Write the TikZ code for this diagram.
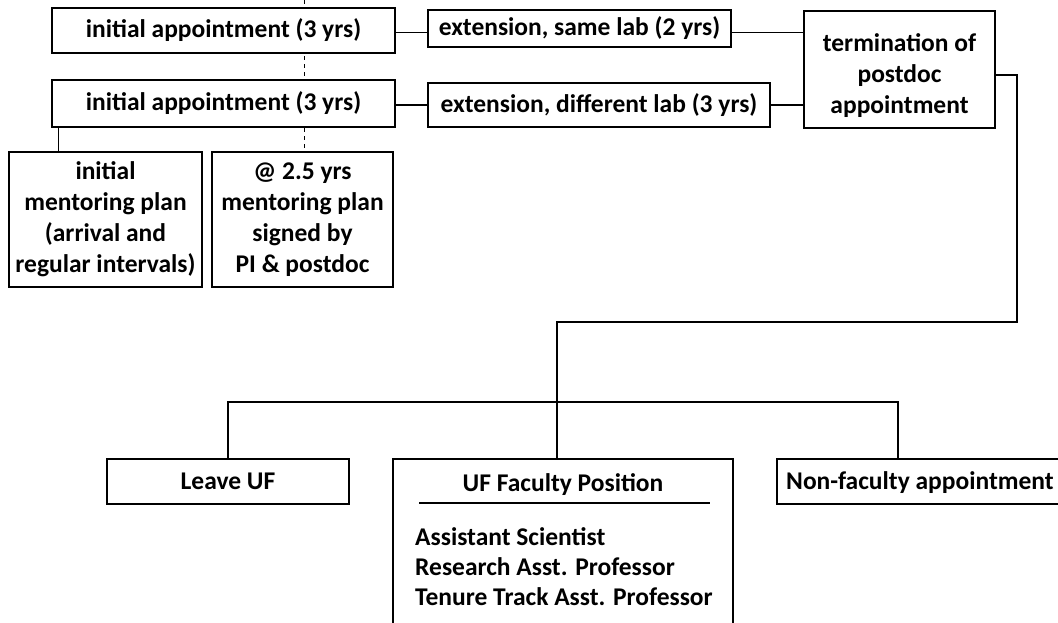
\documentclass[tikz,border=0pt]{standalone}
\usepackage{fontspec}
\setmainfont{Carlito}
\begin{document}
\begin{tikzpicture}[x=1pt,y=-1pt,
  box/.style={draw, line width=1.5pt, fill=white, inner sep=0pt, align=center,
    font=\bfseries\fontsize{25.5}{31}\selectfont},
  plain/.style={inner sep=0pt, font=\bfseries\fontsize{25.5}{31}\selectfont},
  conn/.style={line width=1.5pt},
  dashline/.style={line width=0.9pt, dash pattern=on 4pt off 4pt}]
\useasboundingbox[fill=white] (0,0) rectangle (1058,622);
% dashed guide (behind boxes)
\coordinate (dtop) at (304,0);
\coordinate (dbot) at (304,152);
\draw[dashline] (dtop) -- (dbot);
% boxes
\node[box, minimum width=343pt, minimum height=45pt] (A1) at (223.5,30.5) {initial appointment (3 yrs)};
\node[box, minimum width=343pt, minimum height=47pt] (A2) at (223.5,103.5) {initial appointment (3 yrs)};
\node[box, minimum width=303pt, minimum height=37pt] (E1) at (579.5,28.5) {extension, same lab (2 yrs)};
\node[box, minimum width=342pt, minimum height=44pt] (E2) at (599,105) {extension, different lab (3 yrs)};
\node[box, minimum width=191pt, minimum height=117pt] (T) at (899.5,69.5) {};
\node[plain, align=center] (Tt) at (899.5,76) {termination of\\postdoc\\appointment};
\node[box, minimum width=193pt, minimum height=135pt] (M1) at (105.5,219.5) {initial\\mentoring plan\\(arrival and\\regular intervals)};
\node[box, minimum width=181pt, minimum height=135pt] (M2) at (302.5,219.5) {@ 2.5 yrs\\mentoring plan\\signed by\\PI \& postdoc};
\node[box, minimum width=242pt, minimum height=45pt] (L) at (228,481.5) {Leave UF};
\node[box, minimum width=340pt, minimum height=201pt] (U) at (563,559.5) {};
\node[box, minimum width=313pt, minimum height=45pt] (N) at (933.5,481.5) {};
\node[plain, anchor=west] (Nt) at (786,483) {Non-faculty appointment};
\node[plain] (Ut) at (563,485) {UF Faculty Position};
\coordinate (ul1) at (419,503);
\coordinate (ul2) at (710,503);
\draw[line width=2.2pt] (ul1) -- (ul2);
\node[plain, anchor=west] (Ul1) at (415,537) {Assistant Scientist};
\node[plain, anchor=west] (Ul2) at (415,567) {Research Asst. Professor};
\node[plain, anchor=west] (Ul3) at (415,597) {Tenure Track Asst. Professor};
% connectors
\draw[conn] ([yshift=-2pt]A1.east) -- ([yshift=-2pt]A1.east -| E1.west);
\draw[conn] ([yshift=-4pt]E1.east) -- ([yshift=-4pt]E1.east -| T.west);
\draw[conn] ([yshift=-1.5pt]A2.east) -- ([yshift=-1.5pt]A2.east -| E2.west);
\draw[conn] (E2.east) -- (E2.east -| T.west);
\draw[conn] ([xshift=7pt]A2.south west) -- ([xshift=7pt]A2.south west |- M1.north);
\coordinate (t1) at (1017,75);
\coordinate (t2) at (1017,322);
\coordinate (t3) at (557,322);
\draw[conn] (T.east |- t1) -- (t1) -- (t2) -- (t3) -- (t3 |- U.north);
\coordinate (hL) at (228,402);
\coordinate (hR) at (898,402);
\draw[conn] (hL |- L.north) -- (hL) -- (hR) -- (hR |- N.north);
\end{tikzpicture}
\end{document}
